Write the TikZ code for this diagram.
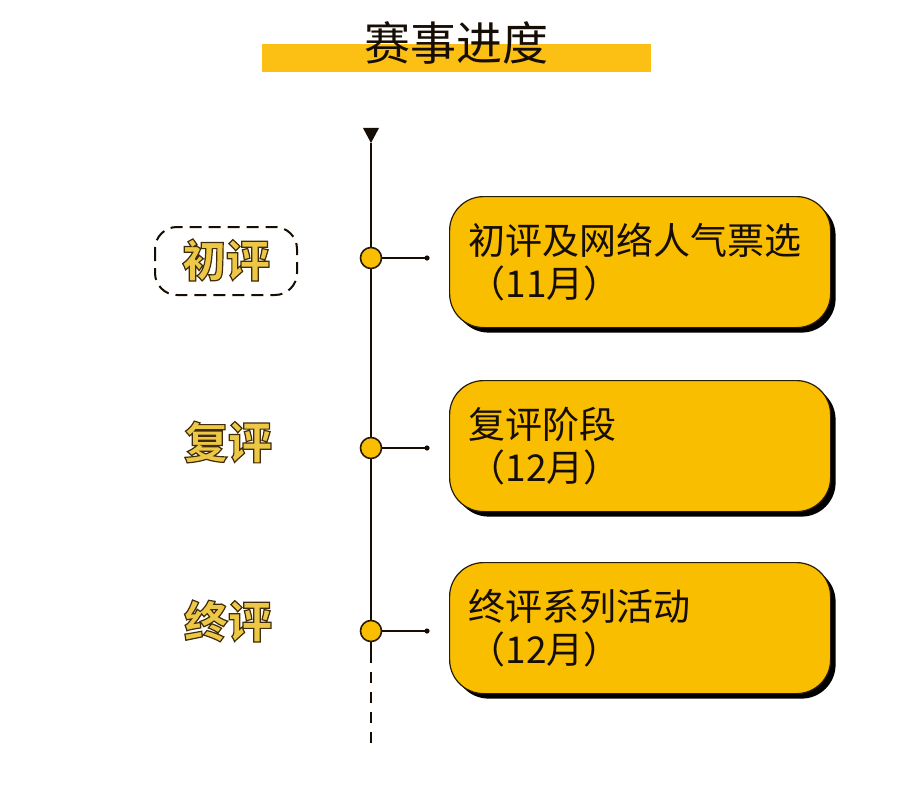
\documentclass[tikz,border=0pt]{standalone}
\usepackage{fontspec}
\setmainfont{Noto Sans CJK SC}
\usetikzlibrary{shadows}
\definecolor{boxyellow}{RGB}{250,190,0}
\definecolor{titleyellow}{RGB}{252,192,20}
\definecolor{labelgoldc}{RGB}{236,200,70}
\definecolor{edgec}{RGB}{40,28,8}
\definecolor{inkc}{RGB}{22,14,4}
\newcommand{\outlined}[1]{\special{pdf:literal direct 0.25 0.17 0.04 RG 1.2 w 2 Tr}#1\special{pdf:literal direct 0 Tr}}
\begin{document}
\begin{tikzpicture}[x=1pt,y=-1pt,
  stagebox/.style={rectangle, rounded corners=34pt, fill=boxyellow, draw=edgec, line width=1.2pt,
    minimum width=381pt, minimum height=131pt, text width=343pt, inner xsep=19pt,
    align=left, anchor=north west, text=inkc,
    font=\fontsize{37}{43}\selectfont,
    drop shadow={shadow xshift=5pt, shadow yshift=-5pt, fill=black, opacity=1}},
  dotnode/.style={circle, fill=boxyellow, draw=edgec, line width=1.6pt, minimum size=21pt, inner sep=0pt},
  labelgold/.style={font=\fontsize{44}{50}\selectfont\bfseries, inner sep=0pt, text=labelgoldc},
  conn/.style={line width=1.5pt, draw=inkc}
]
\useasboundingbox (0,0) rectangle (904,805);

% title
\path[fill=titleyellow] (262,44) rectangle (651,72);
\node[font=\fontsize{46}{50}\selectfont, text=inkc, inner sep=0pt] (title) at (456,43) {赛事进度};

% timeline
\coordinate (top) at (371,143);
\coordinate (solidend) at (371,652);
\coordinate (dashend) at (371,747);
\path[fill=inkc] (363,128) -- (379,128) -- (371,143) -- cycle;
\draw[line width=2pt, draw=inkc] (top) -- (solidend);
\draw[line width=2pt, draw=inkc, dash pattern=on 11pt off 9pt] (solidend) -- (dashend);

% stage boxes
\node[stagebox] (b1) at (449,196) {初评及网络人气票选\\（11月）};
\node[stagebox] (b2) at (449,380) {复评阶段\\（12月）};
\node[stagebox] (b3) at (449,562) {终评系列活动\\（12月）};

% dots and connectors
\node[dotnode] (d1) at (371,258) {};
\node[dotnode] (d2) at (371,448) {};
\node[dotnode] (d3) at (371,631) {};
\coordinate (e1) at (427,258);
\coordinate (e2) at (427,448);
\coordinate (e3) at (427,631);
\foreach \i in {1,2,3}{
  \draw[conn] (d\i.east) -- (e\i);
  \path[fill=inkc] (e\i) circle (2.6pt);
}

% left labels
\node[labelgold] (l1) at (226,260) {\outlined{初评}};
\node[labelgold] (l2) at (228,442) {\outlined{复评}};
\node[labelgold] (l3) at (228,621) {\outlined{终评}};

% dashed frame around first label
\draw[line width=2pt, draw=inkc, dash pattern=on 12pt off 7pt, rounded corners=22pt]
  (155,227) rectangle (297,295);
\end{tikzpicture}
\end{document}
